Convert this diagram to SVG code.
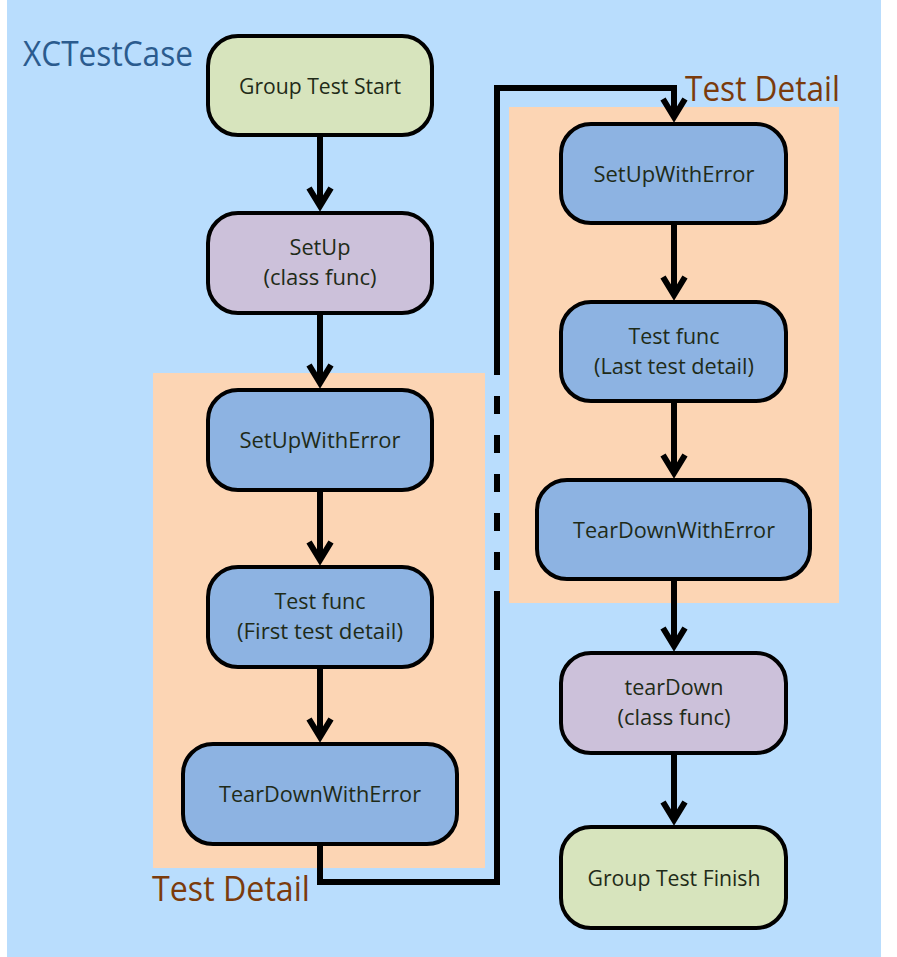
<svg xmlns="http://www.w3.org/2000/svg" width="897" height="957" viewBox="0 0 897 957">
<style>
.node{stroke:#000;stroke-width:4}
.start{fill:#d7e4bd}
.cls{fill:#ccc1da}
.tst{fill:#8db3e2}
.t{font-family:"Open Sans","Liberation Sans",sans-serif;font-size:22px;fill:#1f2b18;text-anchor:middle}
.lbl{font-family:"Open Sans","Liberation Sans",sans-serif;font-size:35px;fill:#7b3b0c}
.con{fill:none;stroke:#000;stroke-width:6}
</style>
<defs>
<marker id="arr" markerUnits="userSpaceOnUse" markerWidth="34" markerHeight="34" viewBox="-26 -17 34 34" refX="0" refY="0" orient="auto">
<path d="M-18 -11 L0 0 L-18 11" fill="none" stroke="#000" stroke-width="6" stroke-linejoin="miter"/>
</marker>
</defs>
<rect x="0" y="0" width="897" height="957" fill="#ffffff"/>
<rect x="7" y="0" width="874" height="957" fill="#b9ddfd"/>
<g id="panel-left"><rect x="153" y="373" width="332" height="495" fill="#fcd5b4"/></g>
<g id="panel-right"><rect x="509" y="107" width="330" height="496" fill="#fcd5b4"/></g>
<text x="23" y="66" font-family="Open Sans, Liberation Sans, sans-serif" font-size="34" fill="#2b5b8e" textLength="170" lengthAdjust="spacingAndGlyphs">XCTestCase</text>
<text class="lbl" x="152" y="901" textLength="158" lengthAdjust="spacingAndGlyphs">Test Detail</text>
<text class="lbl" x="685" y="101" textLength="155" lengthAdjust="spacingAndGlyphs">Test Detail</text>
<g id="connectors">
<line class="con" x1="320" y1="135" x2="320" y2="206" marker-end="url(#arr)"/>
<line class="con" x1="320" y1="313" x2="320" y2="383" marker-end="url(#arr)"/>
<line class="con" x1="320" y1="490" x2="320" y2="560" marker-end="url(#arr)"/>
<line class="con" x1="320" y1="667" x2="320" y2="737" marker-end="url(#arr)"/>
<path class="con" d="M320 844 V882 H497 V591"/>
<line class="con" x1="497" y1="570" x2="497" y2="396" stroke-dasharray="18 21"/>
<path class="con" d="M497 375 V88 H674 V117" marker-end="url(#arr)"/>
<line class="con" x1="674" y1="223" x2="674" y2="295" marker-end="url(#arr)"/>
<line class="con" x1="674" y1="401" x2="674" y2="473" marker-end="url(#arr)"/>
<line class="con" x1="674" y1="579" x2="674" y2="646" marker-end="url(#arr)"/>
<line class="con" x1="674" y1="753" x2="674" y2="820" marker-end="url(#arr)"/>
</g>
<g id="group-test-start"><rect class="node start" x="208" y="36" width="224" height="99" rx="30"/><text class="t" x="320" y="94" textLength="162" lengthAdjust="spacingAndGlyphs">Group Test Start</text></g>
<g id="setup-class"><rect class="node cls" x="208" y="213" width="224" height="100" rx="30"/><text class="t" x="320" y="255" textLength="61" lengthAdjust="spacingAndGlyphs">SetUp</text><text class="t" x="320" y="285" textLength="113" lengthAdjust="spacingAndGlyphs">(class func)</text></g>
<g id="setupwitherror-1"><rect class="node tst" x="208" y="390" width="224" height="100" rx="30"/><text class="t" x="320" y="448" textLength="161" lengthAdjust="spacingAndGlyphs">SetUpWithError</text></g>
<g id="testfunc-first"><rect class="node tst" x="208" y="567" width="224" height="100" rx="30"/><text class="t" x="320" y="609" textLength="91" lengthAdjust="spacingAndGlyphs">Test func</text><text class="t" x="320" y="639" textLength="166" lengthAdjust="spacingAndGlyphs">(First test detail)</text></g>
<g id="teardownwitherror-1"><rect class="node tst" x="183" y="744" width="274" height="100" rx="30"/><text class="t" x="320" y="802" textLength="202" lengthAdjust="spacingAndGlyphs">TearDownWithError</text></g>
<g id="setupwitherror-2"><rect class="node tst" x="561" y="124" width="225" height="99" rx="30"/><text class="t" x="674" y="182" textLength="161" lengthAdjust="spacingAndGlyphs">SetUpWithError</text></g>
<g id="testfunc-last"><rect class="node tst" x="561" y="302" width="225" height="99" rx="30"/><text class="t" x="674" y="344" textLength="91" lengthAdjust="spacingAndGlyphs">Test func</text><text class="t" x="674" y="374" textLength="160" lengthAdjust="spacingAndGlyphs">(Last test detail)</text></g>
<g id="teardownwitherror-2"><rect class="node tst" x="537" y="480" width="273" height="99" rx="30"/><text class="t" x="674" y="538" textLength="202" lengthAdjust="spacingAndGlyphs">TearDownWithError</text></g>
<g id="teardown-class"><rect class="node cls" x="561" y="653" width="225" height="100" rx="30"/><text class="t" x="674" y="695" textLength="99" lengthAdjust="spacingAndGlyphs">tearDown</text><text class="t" x="674" y="725" textLength="113" lengthAdjust="spacingAndGlyphs">(class func)</text></g>
<g id="group-test-finish"><rect class="node start" x="561" y="827" width="225" height="101" rx="30"/><text class="t" x="674" y="886" textLength="173" lengthAdjust="spacingAndGlyphs">Group Test Finish</text></g>
</svg>
